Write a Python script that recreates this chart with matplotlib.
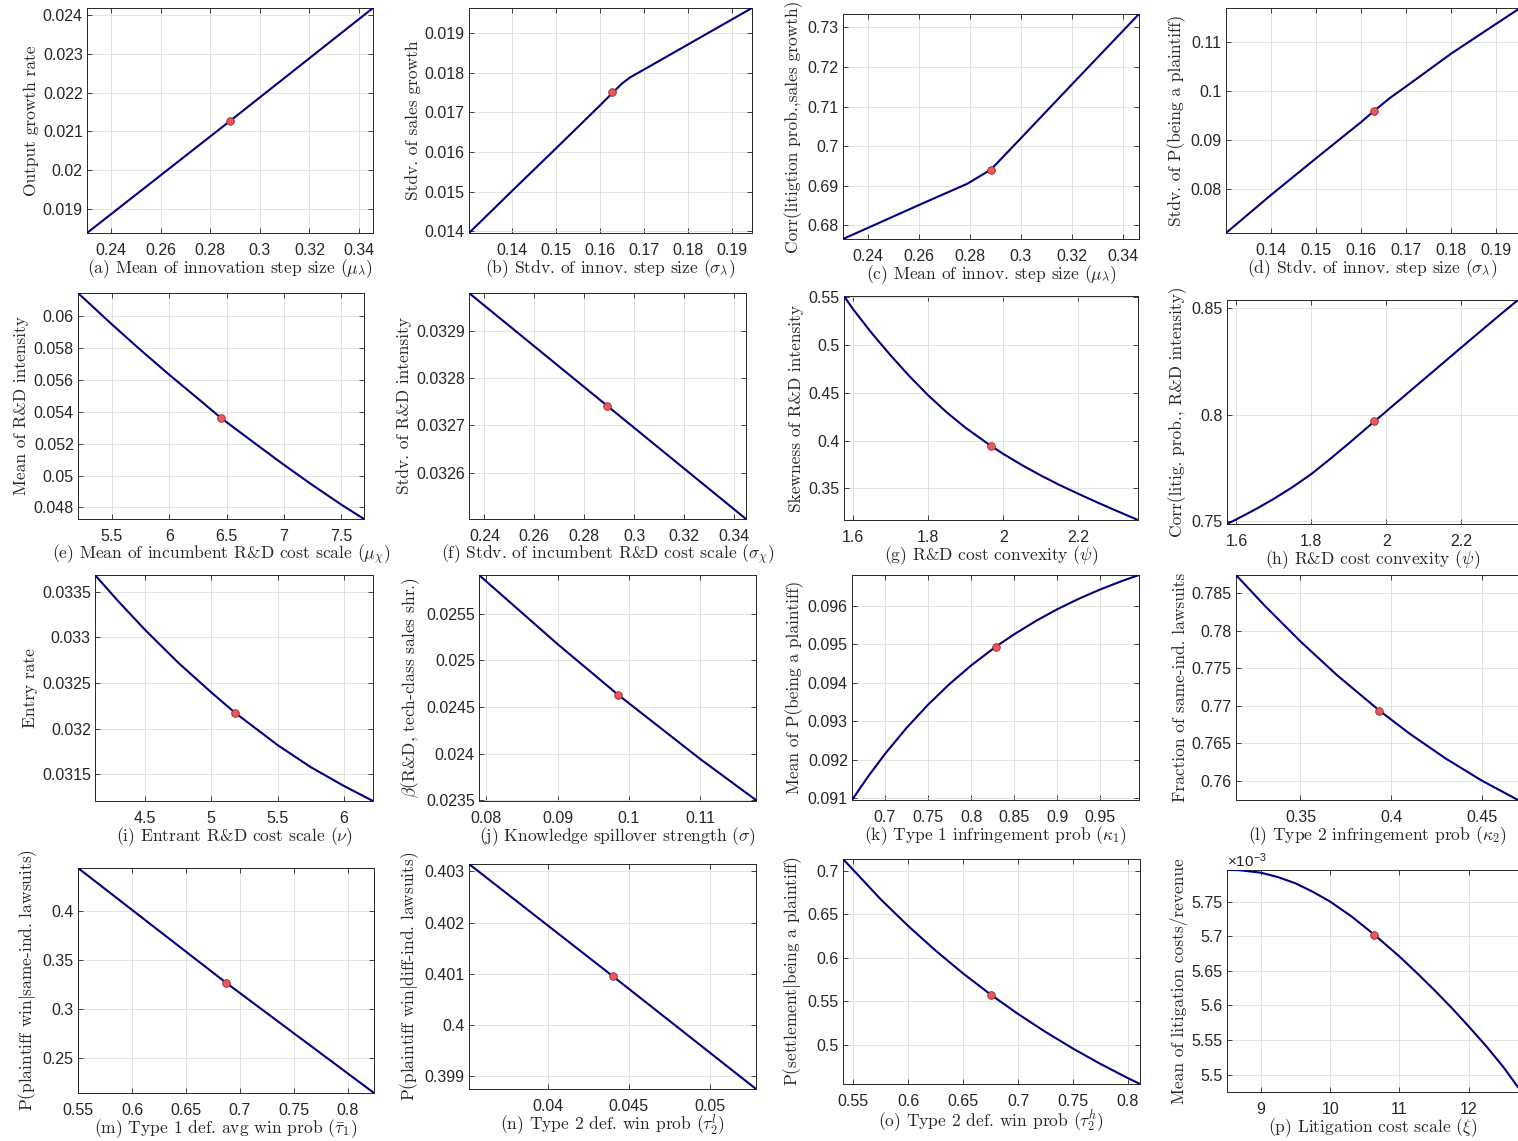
import matplotlib.pyplot as plt
from matplotlib.ticker import MultipleLocator, FuncFormatter

W, H = 1518, 1141

# (a) output growth rate vs mean innovation step
x_a = [0.2303, 0.288, 0.3456]
y_a = [0.01838, 0.02127, 0.02418]
pt_a = (0.288, 0.02127)

# (b) stdv of sales growth vs stdv innovation step
x_b = [0.1301, 0.14, 0.15, 0.16, 0.1628, 0.1650, 0.1668, 0.170, 0.180, 0.190, 0.1946]
y_b = [0.01396, 0.01503, 0.01610, 0.01718, 0.01749, 0.01773, 0.01788, 0.01808, 0.01871, 0.01934, 0.01963]
pt_b = (0.1628, 0.01751)

# (c) corr(litigation prob, sales growth)
x_c = [0.23036, 0.26, 0.2790, 0.2883, 0.30, 0.32, 0.34625]
y_c = [0.67655, 0.6851, 0.6905, 0.6941, 0.7020, 0.7156, 0.73337]
pt_c = (0.2883, 0.6941)

# (d) stdv of P(being a plaintiff)
x_d = [0.1301, 0.14, 0.15, 0.16, 0.1629, 0.1665, 0.17, 0.18, 0.19, 0.1948]
y_d = [0.0710, 0.0787, 0.0862, 0.0936, 0.0959, 0.0986, 0.1009, 0.1076, 0.1137, 0.1166]
pt_d = (0.1629, 0.0959)

# (e) mean of R&D intensity
x_e = [5.204, 5.5, 5.75, 6.0, 6.25, 6.451, 6.75, 7.0, 7.25, 7.5, 7.699]
y_e = [0.06147, 0.059496, 0.057888, 0.056336, 0.054839, 0.05362, 0.052009,
       0.050677, 0.049399, 0.048177, 0.04727]
pt_e = (6.451, 0.05360)

# (f) stdv of R&D intensity
x_f = [0.2338, 0.2891, 0.3449]
y_f = [0.032979, 0.032742, 0.032503]
pt_f = (0.2891, 0.032742)

# (g) skewness of R&D intensity
x_g = [1.5751, 1.60, 1.65, 1.70, 1.75, 1.80, 1.85, 1.90, 1.9671, 2.00, 2.05,
       2.10, 2.15, 2.20, 2.25, 2.30, 2.3591]
y_g = [0.5513, 0.5371, 0.5120, 0.4889, 0.4672, 0.4472, 0.4292, 0.4132, 0.3944, 0.3860, 0.3743,
       0.3635, 0.3535, 0.3443, 0.3354, 0.3268, 0.3169]
pt_g = (1.9671, 0.3944)

# (h) corr(litig. prob., R&D intensity)
x_h = [1.5747, 1.60, 1.65, 1.70, 1.75, 1.80, 1.85, 1.90, 1.9677, 2.0, 2.1, 2.2, 2.3, 2.352]
y_h = [0.7488, 0.7510, 0.7556, 0.7606, 0.7661, 0.7722, 0.7792, 0.7865, 0.7967, 0.8015,
       0.8164, 0.8313, 0.8461, 0.8536]
pt_h = (1.9677, 0.7968)

# (i) entry rate
x_i = [4.123, 4.3, 4.5, 4.75, 5.0, 5.177, 5.5, 5.75, 6.0, 6.2195]
y_i = [0.033683, 0.033393, 0.033083, 0.032723, 0.032397, 0.032176, 0.03182,
       0.031578, 0.031372, 0.031207]
pt_i = (5.177, 0.032176)

# (j) beta(R&D, tech-class sales shr.)
x_j = [0.07898, 0.09, 0.09846, 0.11, 0.1178]
y_j = [0.025918, 0.025175, 0.024632, 0.02394, 0.0235]
pt_j = (0.09846, 0.024632)

# (k) mean of P(being a plaintiff)
x_k = [0.6618, 0.68, 0.70, 0.725, 0.75, 0.775, 0.80, 0.8287, 0.85, 0.875, 0.90,
       0.925, 0.95, 0.975, 0.9949]
y_k = [0.090957, 0.091551, 0.09215, 0.092825, 0.093428, 0.093967, 0.094447, 0.094936,
       0.095257, 0.095601, 0.095907, 0.096179, 0.096422, 0.096639, 0.096796]
pt_k = (0.8287, 0.094936)

# (l) fraction of same-ind. lawsuits
x_l = [0.31453, 0.33, 0.35, 0.37, 0.39347, 0.41, 0.43, 0.45, 0.4697]
y_l = [0.78744, 0.783435, 0.778591, 0.774124, 0.76937, 0.76632, 0.762983, 0.760024, 0.75747]
pt_l = (0.39347, 0.76937)

# (m) P(plaintiff win | same-ind. lawsuits)
x_m = [0.5499, 0.6867, 0.8243]
y_m = [0.4439, 0.3272, 0.2143]
pt_m = (0.6867, 0.3270)

# (n) P(plaintiff win | diff-ind. lawsuits)
x_n = [0.035164, 0.04403, 0.052836]
y_n = [0.403143, 0.400951, 0.398753]
pt_n = (0.04403, 0.400951)

# (o) P(settlement | being a plaintiff)
x_o = [0.54074, 0.575, 0.60, 0.625, 0.65, 0.67566, 0.70, 0.725, 0.75, 0.775, 0.80, 0.81102]
y_o = [0.71379, 0.66757, 0.63687, 0.60852, 0.58228, 0.55747, 0.5357, 0.51505, 0.49592,
       0.47827, 0.46194, 0.45517]
pt_o = (0.67566, 0.55747)

# (p) mean of litigation costs/revenue
x_p = [8.510, 8.6, 8.7, 9.0, 9.25, 9.5, 9.75, 10.0, 10.3, 10.635, 11.0, 11.25, 11.5,
       11.75, 12.0, 12.25, 12.5, 12.711]
y_p = [5.7957e-3, 5.7957e-3, 5.7953e-3, 5.7918e-3, 5.7853e-3, 5.7764e-3, 5.7642e-3,
       5.7500e-3, 5.7292e-3, 5.7024e-3, 5.6707e-3, 5.6471e-3, 5.6226e-3, 5.5969e-3,
       5.5697e-3, 5.5415e-3, 5.5110e-3, 5.4820e-3]
pt_p = (10.635, 5.7024e-3)

xlabels = [
    r'(a) Mean of innovation step size ($\mu_\lambda$)',
    r'(b) Stdv. of innov. step size ($\sigma_\lambda$)',
    r'(c) Mean of innov. step size ($\mu_\lambda$)',
    r'(d) Stdv. of innov. step size ($\sigma_\lambda$)',
    r'(e) Mean of incumbent R&D cost scale ($\mu_\chi$)',
    r'(f) Stdv. of incumbent R&D cost scale ($\sigma_\chi$)',
    r'(g) R&D cost convexity ($\psi$)',
    r'(h) R&D cost convexity ($\psi$)',
    r'(i) Entrant R&D cost scale ($\nu$)',
    r'(j) Knowledge spillover strength ($\sigma$)',
    r'(k) Type 1 infringement prob ($\kappa_1$)',
    r'(l) Type 2 infringement prob ($\kappa_2$)',
    r'(m) Type 1 def. avg win prob ($\bar{\tau}_1$)',
    r'(n) Type 2 def. win prob ($\tau_2^l$)',
    r'(o) Type 2 def. win prob ($\tau_2^h$)',
    r'(p) Litigation cost scale ($\xi$)',
]
ylabels = [
    'Output growth rate',
    'Stdv. of sales growth',
    'Corr(litigtion prob.,sales growth)',
    'Stdv. of P(being a plaintiff)',
    'Mean of R&D intensity',
    'Stdv. of R&D intensity',
    'Skewness of R&D intensity',
    'Corr(litig. prob., R&D intensity)',
    'Entry rate',
    r'$\beta$(R&D, tech-class sales shr.)',
    'Mean of P(being a plaintiff)',
    'Fraction of same-ind. lawsuits',
    r'P(plaintiff win$|$same-ind. lawsuits)',
    r'P(plaintiff win$|$diff-ind. lawsuits)',
    r'P(settlement$|$being a plaintiff)',
    'Mean of litigation costs/revenue',
]

series = [(x_a, y_a, pt_a), (x_b, y_b, pt_b), (x_c, y_c, pt_c), (x_d, y_d, pt_d),
          (x_e, y_e, pt_e), (x_f, y_f, pt_f), (x_g, y_g, pt_g), (x_h, y_h, pt_h),
          (x_i, y_i, pt_i), (x_j, y_j, pt_j), (x_k, y_k, pt_k), (x_l, y_l, pt_l),
          (x_m, y_m, pt_m), (x_n, y_n, pt_n), (x_o, y_o, pt_o), (x_p, y_p, pt_p)]

# y limits
ylims = [(0.01838, 0.02418), (0.01396, 0.01963), (0.67655, 0.73337), (0.0710, 0.1169),
         (0.04727, 0.06147), (0.032503, 0.032979), (0.3169, 0.5513), (0.7488, 0.8536),
         (0.031207, 0.033683), (0.02349, 0.025918), (0.090957, 0.096796), (0.75747, 0.78744),
         (0.2143, 0.4439), (0.398753, 0.403143), (0.45517, 0.71379), (5.475e-3, 5.7957e-3)]
xsteps = [0.02, 0.01, 0.02, 0.01, 0.5, 0.02, 0.2, 0.2, 0.5, 0.01, 0.05, 0.05, 0.05, 0.005, 0.05, 1]
ysteps = [0.001, 0.001, 0.01, 0.01, 0.002, 0.0001, 0.05, 0.05, 0.0005, 0.0005, 0.001, 0.005,
          0.05, 0.001, 0.05, 0.00005]

# axes boxes in pixels: left, top, right, bottom
boxes = [(87, 8, 373, 233), (469, 8, 752, 233), (843, 14, 1139, 239), (1226, 8, 1518, 233),
         (78, 293, 364, 519), (469, 293, 746, 519), (844, 296, 1138, 520), (1227, 300, 1518, 524),
         (95, 575, 373, 801), (479, 575, 756, 801), (852, 575, 1139, 800), (1236, 575, 1518, 800),
         (78, 868, 374, 1093), (469, 864, 756, 1089), (843, 859, 1140, 1084), (1227, 870, 1518, 1092)]

plt.rcParams['font.family'] = 'Liberation Sans'
plt.rcParams['mathtext.fontset'] = 'cm'

fig = plt.figure(figsize=(W / 100, H / 100), dpi=100)
txt = '#262626'
fmt = FuncFormatter(lambda v, p: f'{v:g}')

for k in range(16):
    x, y, pt = series[k]
    l, t, r, b = boxes[k]
    ax = fig.add_axes([l / W, 1 - b / H, (r - l) / W, (b - t) / H])
    ylo, yhi = ylims[k]
    scale = 1.0
    if k == 15:
        scale = 1e3  # axis shown in units of 1e-3
    ax.plot(x, [v * scale for v in y], color='#000080', lw=1.5, zorder=3)
    ax.plot(pt[0], pt[1] * scale, 'o', ms=5.5, mfc='#e8585c', mec='#9a2828', mew=0.6, zorder=4)
    ax.set_xlim(x[0], x[-1])
    ax.set_ylim(ylo * scale, yhi * scale)
    ax.xaxis.set_major_locator(MultipleLocator(xsteps[k]))
    ax.yaxis.set_major_locator(MultipleLocator(ysteps[k] * scale))
    ax.xaxis.set_major_formatter(fmt)
    ax.yaxis.set_major_formatter(fmt)
    ax.grid(True, color='#dedede', lw=0.6)
    ax.set_axisbelow(True)
    edge = r >= W
    ax.tick_params(direction='in', length=3.5, width=0.6, top=True, right=not edge,
                   labelsize=11.5, colors=txt, pad=3)
    ax.tick_params(axis='x', pad=7.5)
    for s in ax.spines.values():
        s.set_color(txt)
        s.set_linewidth(0.7)
    if edge:
        ax.spines['right'].set_visible(False)
    ax.set_xlabel(xlabels[k], fontfamily='cmr10', fontsize=12.6, color=txt, labelpad=-1)
    ax.set_ylabel(ylabels[k], fontfamily='cmr10', fontsize=12.5, color=txt, labelpad=3)
    if k == 15:
        ax.text(0.0, 1.0, '×10$^{\\mathregular{-3}}$', transform=ax.transAxes,
                ha='left', va='bottom', fontsize=11, color=txt)

fig.savefig('out.png', dpi=100)
